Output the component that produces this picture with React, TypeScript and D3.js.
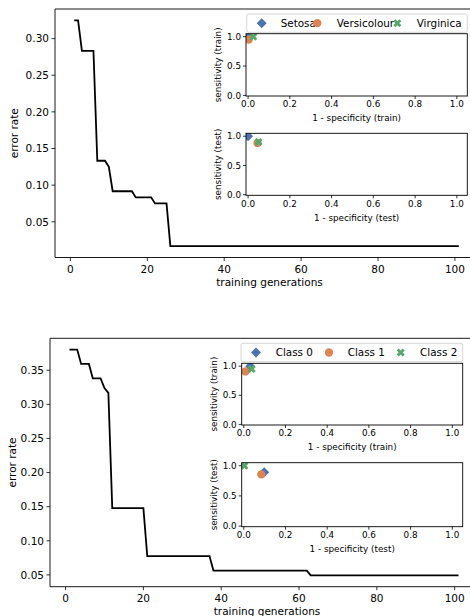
import React from "react";
import * as d3 from "d3";

// ---------- data ----------
const gensTop = [1, 2, 3, 6, 7, 9, 10, 11, 16, 17, 21, 22, 25, 26, 101];
const errTop = [0.325, 0.325, 0.2833, 0.2833, 0.1333, 0.1333, 0.125, 0.0917, 0.0917, 0.0833, 0.0833, 0.075, 0.075, 0.0167, 0.0167];

const gensBottom = [1, 3, 4, 6, 7, 9, 10, 11, 12, 20, 21, 37, 38, 62, 63, 101];
const errBottom = [0.3803, 0.3803, 0.3592, 0.3592, 0.338, 0.338, 0.3239, 0.3169, 0.1479, 0.1479, 0.0775, 0.0775, 0.0563, 0.0563, 0.0493, 0.0493];

const irisClasses = ["Setosa", "Versicolour", "Virginica"];
const irisTrainFpr = [0.0, 0.003, 0.025];
const irisTrainTpr = [1.0, 0.95, 1.0];
const irisTestFpr = [0.0, 0.045, 0.05];
const irisTestTpr = [1.0, 0.885, 0.9];

const wineClasses = ["Class 0", "Class 1", "Class 2"];
const wineTrainFpr = [0.031, 0.008, 0.038];
const wineTrainTpr = [1.0, 0.91, 0.95];
const wineTestFpr = [0.098, 0.084, 0.003];
const wineTestTpr = [0.89, 0.857, 1.0];

const genTicks = [0, 20, 40, 60, 80, 100];
const errTicksTop = [0.05, 0.1, 0.15, 0.2, 0.25, 0.3];
const errTicksBottom = [0.05, 0.1, 0.15, 0.2, 0.25, 0.3, 0.35];
const rocTicksX = [0, 0.2, 0.4, 0.6, 0.8, 1.0];
const rocTicksY = [0, 0.5, 1.0];

const colors = ["#4C72B0", "#DD8452", "#55A868"];
const FONT = "DejaVu Sans, sans-serif";

const symDiamond = d3.symbol().type(d3.symbolSquare).size(50)()!;
const symCircle = d3.symbol().type(d3.symbolCircle).size(54)()!;
const symX = d3.symbol().type(d3.symbolCross).size(40)()!;

function Marker({ i, x, y }: { i: number; x: number; y: number }) {
  if (i === 0) return <path d={symDiamond} transform={`translate(${x},${y}) rotate(45)`} fill={colors[0]} />;
  if (i === 1) return <path d={symCircle} transform={`translate(${x},${y})`} fill={colors[1]} />;
  return <path d={symX} transform={`translate(${x},${y}) rotate(45)`} fill={colors[2]} />;
}

type Box = { left: number; right: number; top: number; bottom: number };

function Inset({ id, box, fpr, tpr, label }: { id: string; box: Box; fpr: number[]; tpr: number[]; label: string }) {
  const x = d3.scaleLinear().domain([-0.01, 1.05]).range([box.left, box.right]);
  const y = d3.scaleLinear().domain([-0.01, 1.05]).range([box.bottom, box.top]);
  const fs = 8.8;
  return (
    <g>
      <defs>
        <clipPath id={id}>
          <rect x={box.left} y={box.top} width={box.right - box.left} height={box.bottom - box.top} />
        </clipPath>
      </defs>
      <rect x={box.left} y={box.top} width={box.right - box.left} height={box.bottom - box.top} fill="white" />
      <g clipPath={`url(#${id})`}>
        {fpr.map((v, i) => (
          <Marker key={i} i={i} x={x(v)} y={y(tpr[i])} />
        ))}
      </g>
      <rect x={box.left} y={box.top} width={box.right - box.left} height={box.bottom - box.top} fill="none" stroke="black" strokeWidth={0.9} />
      {rocTicksX.map((t) => (
        <g key={t}>
          <line x1={x(t)} x2={x(t)} y1={box.bottom} y2={box.bottom + 3} stroke="black" strokeWidth={0.8} />
          <text x={x(t)} y={box.bottom + 11.3} textAnchor="middle" fontSize={fs} fontFamily={FONT}>
            {t.toFixed(1)}
          </text>
        </g>
      ))}
      {rocTicksY.map((t) => (
        <g key={t}>
          <line x1={box.left - 3} x2={box.left} y1={y(t)} y2={y(t)} stroke="black" strokeWidth={0.8} />
          <text x={box.left - 5} y={y(t) + 3.1} textAnchor="end" fontSize={fs} fontFamily={FONT}>
            {t.toFixed(1)}
          </text>
        </g>
      ))}
      <text x={(box.left + box.right) / 2} y={box.bottom + 25.3} textAnchor="middle" fontSize={fs} fontFamily={FONT}>
        {`1 - specificity (${label})`}
      </text>
      <text
        transform={`translate(${box.left - 25},${(box.top + box.bottom) / 2}) rotate(-90)`}
        textAnchor="middle"
        fontSize={fs}
        fontFamily={FONT}
      >
        {`sensitivity (${label})`}
      </text>
    </g>
  );
}

function Legend({ box, names, markerX, textX }: { box: Box; names: string[]; markerX: number[]; textX: number[] }) {
  const cy = (box.top + box.bottom) / 2;
  return (
    <g>
      <rect
        x={box.left}
        y={box.top}
        width={box.right - box.left}
        height={box.bottom - box.top}
        rx={2}
        fill="white"
        fillOpacity={0.8}
        stroke="#cccccc"
        strokeWidth={0.8}
      />
      {names.map((n, i) => (
        <g key={n}>
          <text x={textX[i]} y={cy + 3.7} fontSize={10.4} fontFamily={FONT}>
            {n}
          </text>
          <Marker i={i} x={markerX[i]} y={cy} />
        </g>
      ))}
    </g>
  );
}

type PanelProps = {
  main: Box;
  gens: number[];
  errs: number[];
  yDomain: [number, number];
  yTicks: number[];
  yLabelX: number;
  insetTrain: Box;
  insetTest: Box;
  legend: Box;
  names: string[];
  trainFpr: number[];
  trainTpr: number[];
  testFpr: number[];
  testTpr: number[];
  markerX: number[];
  textX: number[];
  id: string;
};

function Panel(p: PanelProps) {
  const x = d3.scaleLinear().domain([-4, 106]).range([p.main.left, p.main.right]);
  const y = d3.scaleLinear().domain(p.yDomain).range([p.main.bottom, p.main.top]);
  const line = d3
    .line<number>()
    .x((d) => x(d))
    .y((_, i) => y(p.errs[i]));
  const fs = 10.5;
  return (
    <g>
      <path d={line(p.gens) || ""} fill="none" stroke="black" strokeWidth={1.8} />
      <line x1={p.main.left} x2={p.main.right} y1={p.main.top} y2={p.main.top} stroke="black" strokeWidth={0.9} />
      <line x1={p.main.left} x2={p.main.right} y1={p.main.bottom} y2={p.main.bottom} stroke="black" strokeWidth={0.9} />
      <line x1={p.main.left} x2={p.main.left} y1={p.main.top} y2={p.main.bottom} stroke="black" strokeWidth={0.9} />
      {genTicks.map((t) => (
        <g key={t}>
          <line x1={x(t)} x2={x(t)} y1={p.main.bottom} y2={p.main.bottom + 3.5} stroke="black" strokeWidth={0.8} />
          <text x={x(t)} y={p.main.bottom + 15} textAnchor="middle" fontSize={fs} fontFamily={FONT}>
            {t}
          </text>
        </g>
      ))}
      {p.yTicks.map((t) => (
        <g key={t}>
          <line x1={p.main.left - 3.5} x2={p.main.left} y1={y(t)} y2={y(t)} stroke="black" strokeWidth={0.8} />
          <text x={p.main.left - 6} y={y(t) + 3.8} textAnchor="end" fontSize={fs} fontFamily={FONT}>
            {t.toFixed(2)}
          </text>
        </g>
      ))}
      <text x={(p.main.left + 478) / 2 + 3} y={p.main.bottom + 28} textAnchor="middle" fontSize={fs} fontFamily={FONT}>
        training generations
      </text>
      <text
        transform={`translate(${p.yLabelX},${(p.main.top + p.main.bottom) / 2}) rotate(-90)`}
        textAnchor="middle"
        fontSize={fs}
        fontFamily={FONT}
      >
        error rate
      </text>
      <Inset id={p.id + "tr"} box={p.insetTrain} fpr={p.trainFpr} tpr={p.trainTpr} label="train" />
      <Inset id={p.id + "te"} box={p.insetTest} fpr={p.testFpr} tpr={p.testTpr} label="test" />
      <Legend box={p.legend} names={p.names} markerX={p.markerX} textX={p.textX} />
    </g>
  );
}

export default function App() {
  return (
    <svg
      width={470}
      height={616}
      style={{ position: "absolute", left: 0, top: 0, background: "white" }}
    >
      <rect width={470} height={616} fill="white" />
      <Panel
        id="a"
        main={{ left: 55, right: 478, top: 9, bottom: 257.5 }}
        gens={gensTop}
        errs={errTop}
        yDomain={[0.00125, 0.3404]}
        yTicks={errTicksTop}
        yLabelX={18}
        insetTrain={{ left: 246, right: 467.3, top: 33.7, bottom: 96 }}
        insetTest={{ left: 246, right: 467.3, top: 133.3, bottom: 195.3 }}
        legend={{ left: 246.7, right: 467.3, top: 14, bottom: 32.3 }}
        names={irisClasses}
        trainFpr={irisTrainFpr}
        trainTpr={irisTrainTpr}
        testFpr={irisTestFpr}
        testTpr={irisTestTpr}
        markerX={[261.7, 317.3, 397.3]}
        textX={[280.7, 336.7, 416.7]}
      />
      <Panel
        id="b"
        main={{ left: 50, right: 478, top: 338.3, bottom: 586.7 }}
        gens={gensBottom}
        errs={errBottom}
        yDomain={[0.0327, 0.3968]}
        yTicks={errTicksBottom}
        yLabelX={16}
        insetTrain={{ left: 241.7, right: 462.7, top: 363.3, bottom: 425 }}
        insetTest={{ left: 241.7, right: 462.7, top: 462.7, bottom: 526.7 }}
        legend={{ left: 241, right: 462.7, top: 343.3, bottom: 361.7 }}
        names={wineClasses}
        trainFpr={wineTrainFpr}
        trainTpr={wineTrainTpr}
        testFpr={wineTestFpr}
        testTpr={wineTestTpr}
        markerX={[256, 329, 400.7]}
        textX={[275.7, 347.7, 420]}
      />
    </svg>
  );
}
